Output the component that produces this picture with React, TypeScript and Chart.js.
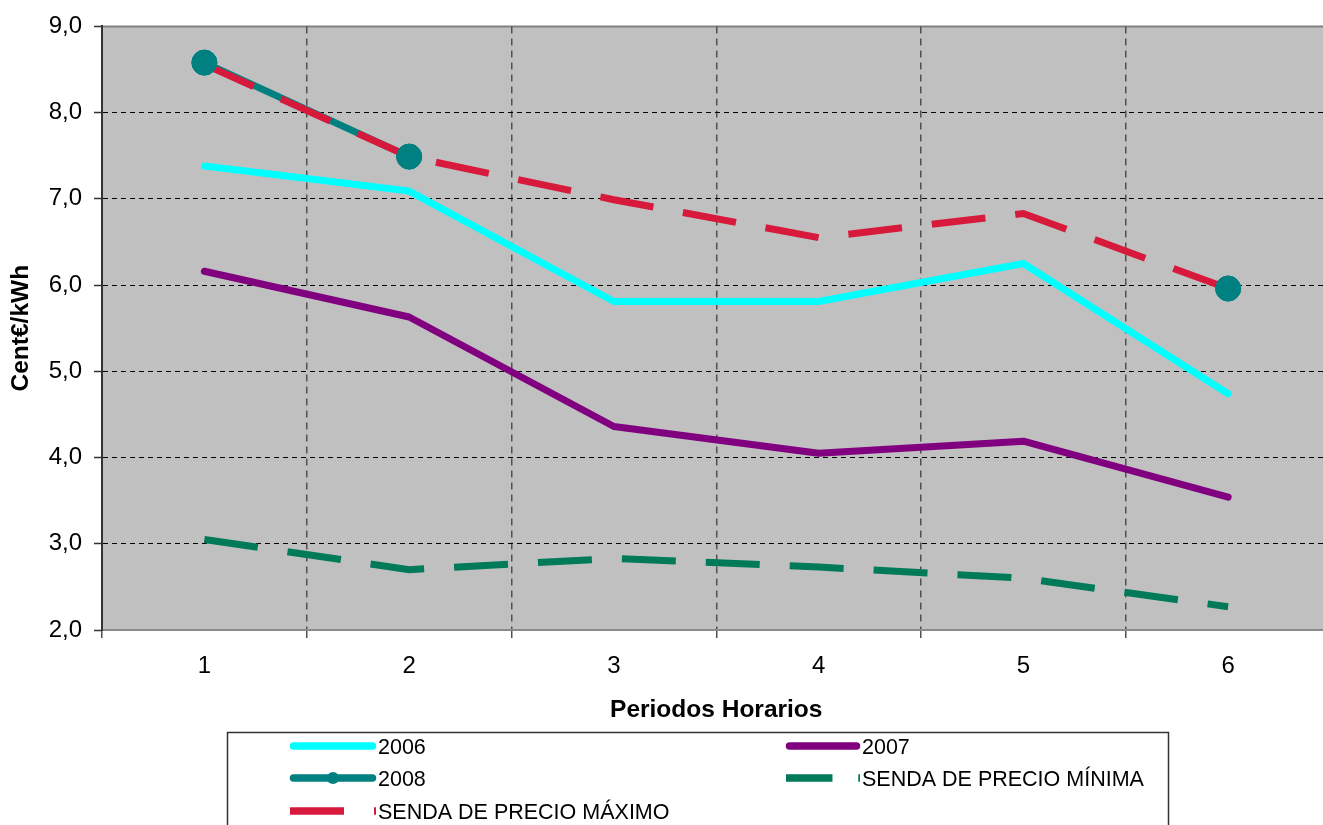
import React, { useEffect, useRef } from 'react';
import { Chart, registerables } from 'chart.js';

Chart.register(...registerables);

// ---- Data ----
const categories = ['1', '2', '3', '4', '5', '6'];
const series2006 = [7.38, 7.09, 5.81, 5.81, 6.25, 4.74];
const series2007 = [6.16, 5.63, 4.36, 4.05, 4.19, 3.54];
const series2008 = [8.58, 7.49, null, null, null, 5.96];
const sendaMinima = [3.05, 2.7, 2.83, 2.73, 2.6, 2.27];
const sendaMaxima = [8.56, 7.49, 6.99, 6.55, 6.83, 5.96];
const seriesLabels = ['2006', '2007', '2008', 'SENDA DE PRECIO MÍNIMA', 'SENDA DE PRECIO MÁXIMO'];
const yMin = 2;
const yMax = 9;
const yStep = 1;
const xTitle = 'Periodos Horarios';
const yTitle = 'Cent€/kWh';

const FONT = '"Liberation Sans", Arial, sans-serif';
const CANVAS_W = 1344;
const CANVAS_H = 860;

const plotBackground = {
  id: 'plotBackground',
  beforeDraw(chart: any) {
    const { ctx, chartArea: a } = chart;
    ctx.save();
    ctx.fillStyle = '#C0C0C0';
    ctx.fillRect(a.left, a.top, a.right - a.left, a.bottom - a.top);
    ctx.strokeStyle = '#808080';
    ctx.lineWidth = 2;
    ctx.beginPath();
    ctx.moveTo(a.left, a.top);
    ctx.lineTo(a.right, a.top);
    ctx.stroke();
    ctx.restore();
  },
};

const markersOnTop = {
  id: 'markersOnTop',
  afterDatasetsDraw(chart: any) {
    const meta = chart.getDatasetMeta(2);
    meta.data.forEach((p: any) => {
      if (!p.skip) p.draw(chart.ctx, chart.chartArea);
    });
  },
};

const boxLegend = {
  id: 'boxLegend',
  afterDraw(chart: any) {
    const ctx = chart.ctx;
    ctx.save();
    ctx.strokeStyle = '#333';
    ctx.lineWidth = 1.5;
    ctx.strokeRect(227.5, 732.5, 941, 200);
    const cols = [
      { x0: 290, x1: 376, tx: 378 },
      { x0: 786, x1: 860, tx: 862 },
    ];
    const rows = [746, 778, 811];
    chart.data.datasets.forEach((ds: any, i: number) => {
      const col = cols[i % 2];
      const y = rows[Math.floor(i / 2)];
      const len = col.x1 - col.x0;
      ctx.save();
      ctx.strokeStyle = ds.borderColor;
      ctx.lineWidth = 7.5;
      ctx.beginPath();
      if (ds.borderDash && ds.borderDash.length) {
        const s = len / 86;
        ctx.setLineDash(ds.borderDash.map((d: number) => d * s));
        ctx.lineCap = 'butt';
        ctx.moveTo(col.x0, y);
        ctx.lineTo(col.x1, y);
      } else {
        ctx.lineCap = 'round';
        ctx.moveTo(col.x0 + 3.5, y);
        ctx.lineTo(col.x1 - 3.5, y);
      }
      ctx.stroke();
      ctx.setLineDash([]);
      if (ds.pointRadius && ds.pointRadius > 0) {
        ctx.fillStyle = ds.pointBackgroundColor;
        ctx.beginPath();
        ctx.arc((col.x0 + col.x1) / 2, y, 6, 0, Math.PI * 2);
        ctx.fill();
      }
      ctx.fillStyle = '#000';
      ctx.font = `21.5px ${FONT}`;
      ctx.textAlign = 'left';
      ctx.textBaseline = 'middle';
      ctx.fillText(ds.label, col.tx, y + 2);
      ctx.restore();
    });
    ctx.restore();
  },
};

export default function App() {
  const ref = useRef<HTMLCanvasElement>(null);

  useEffect(() => {
    const canvas = ref.current!;
    const chart = new Chart(canvas, {
      type: 'line',
      data: {
        labels: categories,
        datasets: [
          {
            label: seriesLabels[0],
            data: series2006,
            borderColor: '#00FFFF',
            borderWidth: 7,
            pointRadius: 0,
            tension: 0,
            borderCapStyle: 'round',
            borderJoinStyle: 'round',
            order: 4,
          },
          {
            label: seriesLabels[1],
            data: series2007,
            borderColor: '#800080',
            borderWidth: 7,
            pointRadius: 0,
            tension: 0,
            borderCapStyle: 'round',
            borderJoinStyle: 'round',
            order: 3,
          },
          {
            label: seriesLabels[2],
            data: series2008,
            borderColor: '#008080',
            backgroundColor: '#008080',
            pointBackgroundColor: '#008080',
            pointBorderColor: '#008080',
            borderWidth: 7,
            pointRadius: 12.5,
            pointBorderWidth: 1,
            spanGaps: false,
            tension: 0,
            borderCapStyle: 'round',
            borderJoinStyle: 'round',
            order: 1,
          },
          {
            label: seriesLabels[3],
            data: sendaMinima,
            borderColor: '#007A58',
            borderWidth: 7,
            borderDash: [54, 30],
            pointRadius: 0,
            tension: 0,
            borderCapStyle: 'butt',
            order: 2,
          },
          {
            label: seriesLabels[4],
            data: sendaMaxima,
            borderColor: '#D71A3C',
            borderWidth: 7,
            borderDash: [54, 30],
            pointRadius: 0,
            tension: 0,
            borderCapStyle: 'butt',
            order: 0,
          },
        ] as any,
      },
      options: {
        animation: false,
        responsive: false,
        devicePixelRatio: 1,
        layout: { padding: { left: 0, top: 23, right: 6, bottom: 135 } },
        plugins: {
          legend: { display: false },
          tooltip: { enabled: false },
        },
        scales: {
          x: {
            type: 'category',
            offset: true,
            grid: {
              offset: true,
              color: '#505050',
              lineWidth: 1.5,
              tickLength: 8,
              tickColor: '#505050',
              tickWidth: 1.5,
              tickBorderDash: [],
            },
            border: { display: true, color: '#8a8a8a', width: 2, dash: [7, 5] },
            ticks: {
              color: '#000',
              font: { family: FONT, size: 24 },
              padding: 14,
              maxRotation: 0,
            },
            title: {
              display: true,
              text: xTitle,
              color: '#000',
              font: { family: FONT, size: 24.5, weight: 'bold' },
              padding: { top: 0, bottom: 0 },
            },
            afterFit(scale: any) {
              scale.height = 95;
            },
          } as any,
          y: {
            min: yMin,
            max: yMax,
            grid: {
              color: (c: any) => (c.tick && c.tick.value === yMax ? 'rgba(0,0,0,0)' : '#000'),
              lineWidth: 1,
              tickLength: 8,
              tickColor: '#333',
              tickWidth: 1.5,
              tickBorderDash: [],
            },
            border: { display: true, color: '#333', width: 2, dash: [5, 4] },
            ticks: {
              stepSize: yStep,
              color: '#000',
              font: { family: FONT, size: 24 },
              padding: 12,
              callback: (v: any) => Number(v).toFixed(1).replace('.', ','),
            },
            title: {
              display: true,
              text: yTitle,
              color: '#000',
              font: { family: FONT, size: 24.5, weight: 'bold' },
              padding: { top: 7, bottom: 0 },
            },
            afterFit(scale: any) {
              scale.width = 102;
            },
          } as any,
        },
      },
      plugins: [plotBackground, markersOnTop, boxLegend],
    });
    return () => chart.destroy();
  }, []);

  return (
    <div
      style={{
        position: 'fixed',
        left: 0,
        top: 0,
        width: 1323,
        height: 825,
        overflow: 'hidden',
        background: '#fff',
      }}
    >
      <canvas
        ref={ref}
        width={CANVAS_W}
        height={CANVAS_H}
        style={{ display: 'block', width: CANVAS_W, height: CANVAS_H }}
      />
    </div>
  );
}
